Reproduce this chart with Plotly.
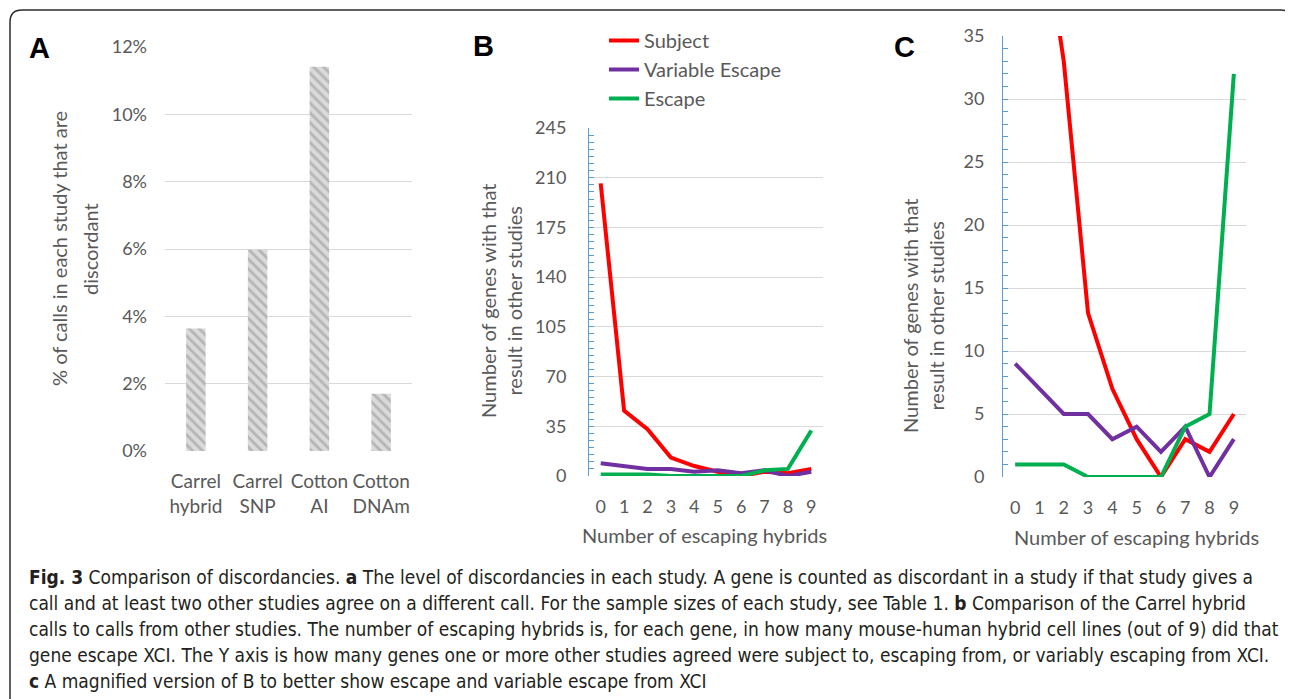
import plotly.graph_objects as go

W, H = 1293, 699
OFF = 8  # page body margin in the browser

# ---------------- data ----------------
studies = ["Carrel<br>hybrid", "Carrel<br>SNP", "Cotton<br>AI", "Cotton<br>DNAm"]
discordant_frac = [0.0364, 0.0598, 0.1141, 0.0170]

escaping_hybrids = [0, 1, 2, 3, 4, 5, 6, 7, 8, 9]
subject = [206, 46, 33, 13, 7, 3, 0, 3, 2, 5]
variable_escape = [9, 7, 5, 5, 3, 4, 2, 4, 0, 3]
escape = [1, 1, 1, 0, 0, 0, 0, 4, 5, 32]

b_ticks = [0, 35, 70, 105, 140, 175, 210, 245]
c_ticks = [0, 5, 10, 15, 20, 25, 30, 35]

caption_lines = [
    "<b>Fig. 3</b> Comparison of discordancies. <b>a</b> The level of discordancies in each study. A gene is counted as discordant in a study if that study gives a",
    "call and at least two other studies agree on a different call. For the sample sizes of each study, see Table 1. <b>b</b> Comparison of the Carrel hybrid",
    "calls to calls from other studies. The number of escaping hybrids is, for each gene, in how many mouse-human hybrid cell lines (out of 9) did that",
    "gene escape XCI. The Y axis is how many genes one or more other studies agreed were subject to, escaping from, or variably escaping from XCI.",
    "<b>c</b> A magnified version of B to better show escape and variable escape from XCI",
]

# ---------------- styling ----------------
FONT = "Lato, 'Open Sans', sans-serif"
GRAY = "#595959"
GRID = "#d9d9d9"
BLUE = "#5b9bd5"
RED, PURPLE, GREEN = "#ff0000", "#7030a0", "#00b050"


def px(x):
    return (x - OFF) / W


def py(y):
    return 1 - (y - OFF) / H


fig = go.Figure()

# Panel A bars
fig.add_trace(go.Bar(
    x=studies, y=discordant_frac, xaxis="x", yaxis="y", showlegend=False,
    marker=dict(color="#d9d9d9", line=dict(width=0),
                pattern=dict(shape="\\", bgcolor="#dadada", fgcolor="#b5b5b5",
                             size=7, solidity=0.4)),
))

# Panel B lines
for name, vals, col in [("Subject", subject, RED),
                        ("Variable Escape", variable_escape, PURPLE),
                        ("Escape", escape, GREEN)]:
    fig.add_trace(go.Scatter(x=escaping_hybrids, y=vals, mode="lines", name=name,
                             xaxis="x2", yaxis="y2",
                             line=dict(color=col, width=4)))

# Panel C lines
for name, vals, col in [("Subject", subject, RED),
                        ("Variable Escape", variable_escape, PURPLE),
                        ("Escape", escape, GREEN)]:
    fig.add_trace(go.Scatter(x=escaping_hybrids, y=vals, mode="lines", name=name,
                             xaxis="x3", yaxis="y3", showlegend=False,
                             line=dict(color=col, width=4)))

tickfont = dict(family=FONT, size=18, color=GRAY)

fig.update_layout(
    template="none",
    width=W, height=H, margin=dict(l=0, r=0, t=0, b=0, pad=0, autoexpand=False),
    paper_bgcolor="white", plot_bgcolor="white",
    bargap=0.684,
    font=dict(family=FONT, color=GRAY),
    xaxis=dict(domain=[px(165), px(412)], anchor="y", showgrid=False, showline=False,
               zeroline=False, automargin=False,
               ticks="", tickfont=dict(family=FONT, size=19, color=GRAY),
               ticklabelstandoff=17),
    yaxis=dict(domain=[py(451), py(47)], anchor="x", range=[0, 0.12], dtick=0.02,
               tickformat=".0%", showgrid=True, gridcolor=GRID, gridwidth=1,
               zeroline=False, showline=False, ticks="", tickfont=tickfont,
               automargin=False, ticklabelstandoff=17),
    xaxis2=dict(domain=[px(589), px(823)], anchor="y2", range=[-0.5, 9.5],
                tickvals=escaping_hybrids, showgrid=False, showline=False, zeroline=False,
                automargin=False, ticks="", tickfont=tickfont, ticklabelstandoff=18),
    yaxis2=dict(domain=[py(476), py(128)], anchor="x2", range=[0, 245],
                tickvals=b_ticks, showgrid=True, gridcolor=GRID, zeroline=False,
                showline=True, linecolor=BLUE, linewidth=1, automargin=False,
                ticks="inside", ticklen=5, tickcolor=BLUE,
                minor=dict(dtick=5, ticks="inside", ticklen=5, tickcolor=BLUE, showgrid=False),
                tickfont=tickfont, ticklabelstandoff=18),
    xaxis3=dict(domain=[px(1003), px(1246)], anchor="y3", range=[-0.5, 9.5],
                tickvals=escaping_hybrids, showgrid=False, showline=False, zeroline=False,
                automargin=False, ticks="", tickfont=tickfont, ticklabelstandoff=18),
    yaxis3=dict(domain=[py(477), py(36)], anchor="x3", range=[0, 35],
                tickvals=c_ticks, showgrid=True, gridcolor=GRID, zeroline=False,
                showline=True, linecolor=BLUE, linewidth=1, automargin=False,
                ticks="inside", ticklen=5, tickcolor=BLUE,
                minor=dict(dtick=1, ticks="inside", ticklen=5, tickcolor=BLUE, showgrid=False),
                tickfont=tickfont, ticklabelstandoff=14),
    legend=dict(x=px(604), y=py(21), xanchor="left", yanchor="top",
                bgcolor="rgba(0,0,0,0)", font=dict(family=FONT, size=20, color=GRAY),
                tracegroupgap=0, itemwidth=30),
)

ann = []
# panel letters
for letter, x, y in [("A", 39, 48), ("B", 483, 46), ("C", 904, 47)]:
    ann.append(dict(text=f"<b>{letter}</b>", x=px(x), y=py(y), xref="paper", yref="paper",
                    showarrow=False, xanchor="center", yanchor="middle",
                    font=dict(family="Liberation Sans, Arial, sans-serif", size=29, color="black")))
# axis titles
title_font = dict(family=FONT, size=20, color=GRAY)
for txt, x in [("% of calls in each study that are", 59), ("discordant", 90)]:
    ann.append(dict(text=txt, x=px(x), y=py(249), xref="paper", yref="paper",
                    showarrow=False, textangle=-90, xanchor="center", yanchor="middle",
                    font=title_font))
ann.append(dict(text="Number of genes with that<br>result in other studies", x=px(501), y=py(301),
                xref="paper", yref="paper", showarrow=False, textangle=-90,
                xanchor="center", yanchor="middle", font=title_font))
ann.append(dict(text="Number of genes with that<br>result in other studies", x=px(923), y=py(316),
                xref="paper", yref="paper", showarrow=False, textangle=-90,
                xanchor="center", yanchor="middle", font=title_font))
ann.append(dict(text="Number of escaping hybrids", x=px(704), y=py(535), xref="paper", yref="paper",
                showarrow=False, xanchor="center", yanchor="middle", font=title_font))
ann.append(dict(text="Number of escaping hybrids", x=px(1136), y=py(537), xref="paper", yref="paper",
                showarrow=False, xanchor="center", yanchor="middle", font=title_font))
# caption
cap_font = dict(family="'Liberation Sans Narrow', 'DejaVu Sans Condensed', sans-serif",
                size=19, color="#231f20")
for i, line in enumerate(caption_lines):
    ann.append(dict(text=line, x=px(27), y=py(577 + 26 * i), xref="paper", yref="paper",
                    showarrow=False, xanchor="left", yanchor="middle", align="left",
                    font=cap_font))
fig.update_layout(annotations=ann)

# rounded frame around the figure
L, T, R, r = px(10), py(10), px(1293), 12
path = (f"M {L},{py(720)} L {L},{py(10 + r)} Q {L},{T} {px(10 + r)},{T} "
        f"L {px(1293 - r)},{T} Q {R},{T} {R},{py(10 + r)} L {R},{py(720)}")
fig.add_shape(type="path", path=path, xref="paper", yref="paper",
              line=dict(color="#2b2b2b", width=1.5))

fig.write_html("out.html")
